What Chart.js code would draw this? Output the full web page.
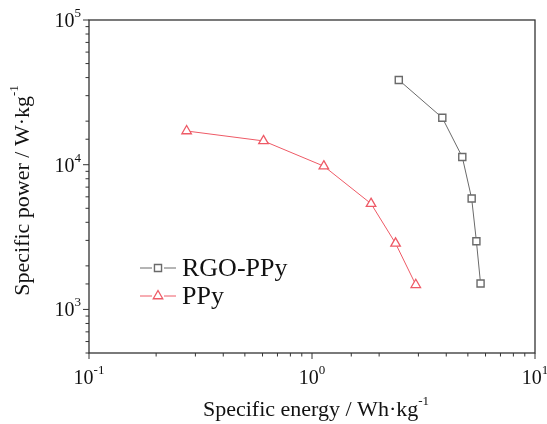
<!DOCTYPE html>
<html>
<head>
<meta charset="utf-8">
<script src="https://cdn.jsdelivr.net/npm/chart.js@4/dist/chart.umd.min.js"></script>
<style>
  html,body{margin:0;padding:0;background:#fff;}
  #wrap{width:547px;height:424px;position:relative;}
</style>
</head>
<body>
<div id="wrap"><canvas id="c"></canvas></div>
<script>
// data
const seriesNames = ['RGO-PPy', 'PPy'];
const rgoEnergy = [2.45, 3.84, 4.72, 5.20, 5.46, 5.70];
const rgoPower  = [38500, 21100, 11300, 5840, 2960, 1510];
const ppyEnergy = [0.274, 0.606, 1.13, 1.84, 2.37, 2.92];
const ppyPower  = [17100, 14600, 9770, 5380, 2860, 1480];
const xDecades = [-1, 0, 1];
const yDecades = [3, 4, 5];

const FONT = '"Liberation Serif", "Times New Roman", serif';
const GREY = '#6a6a6a';
const RED = '#ee5a66';

function pts(xs, ys){ return xs.map((x,i)=>({x:x, y:ys[i]})); }
function isDecade(v){ const l = Math.log10(v); return Math.abs(l - Math.round(l)) < 1e-6; }

// text with a superscript tail, like 10^-1 or kg^-1
function supText(ctx, base, exp, x, y, size, supSize, rise){
  ctx.font = size + 'px ' + FONT;
  const w = ctx.measureText(base).width;
  ctx.fillText(base, x, y);
  ctx.font = supSize + 'px ' + FONT;
  ctx.fillText(exp, x + w, y - rise);
  return w + ctx.measureText(exp).width;
}
function supWidth(ctx, base, exp, size, supSize){
  ctx.font = size + 'px ' + FONT;
  const w = ctx.measureText(base).width;
  ctx.font = supSize + 'px ' + FONT;
  return w + ctx.measureText(exp).width;
}

// frame, ticks, labels and legend
const decor = {
  id: 'decor',
  afterDraw(chart){
    const ctx = chart.ctx, a = chart.chartArea;
    const xs = chart.scales.x, ys = chart.scales.y;
    ctx.save();
    ctx.strokeStyle = '#333'; ctx.lineWidth = 1.3;
    ctx.strokeRect(a.left, a.top, a.right - a.left, a.bottom - a.top);

    ctx.lineWidth = 1;
    xs.ticks.forEach(t=>{
      const px = xs.getPixelForValue(t.value);
      ctx.beginPath(); ctx.moveTo(px, a.bottom); ctx.lineTo(px, a.bottom + (isDecade(t.value)?6:3.5)); ctx.stroke();
    });
    ys.ticks.forEach(t=>{
      const py = ys.getPixelForValue(t.value);
      ctx.beginPath(); ctx.moveTo(a.left, py); ctx.lineTo(a.left - (isDecade(t.value)?6:3.5), py); ctx.stroke();
    });

    ctx.fillStyle = '#111'; ctx.textAlign = 'left'; ctx.textBaseline = 'alphabetic';
    xDecades.forEach(d=>{
      const px = xs.getPixelForValue(Math.pow(10, d));
      const w = supWidth(ctx, '10', String(d), 20, 13);
      supText(ctx, '10', String(d), px - w / 2, a.bottom + 31, 20, 13, 10);
    });
    yDecades.forEach(d=>{
      const py = ys.getPixelForValue(Math.pow(10, d));
      const w = supWidth(ctx, '10', String(d), 20, 13);
      supText(ctx, '10', String(d), a.left - 8 - w, py + 7, 20, 13, 10);
    });

    // axis titles
    const xw = supWidth(ctx, 'Specific energy / Wh\u00b7kg', '-1', 22, 13);
    supText(ctx, 'Specific energy / Wh\u00b7kg', '-1', (a.left + a.right) / 2 + 4 - xw / 2, 416, 22, 13, 11);

    ctx.save();
    ctx.translate(29, (a.top + a.bottom) / 2 + 4);
    ctx.rotate(-Math.PI / 2);
    const yw = supWidth(ctx, 'Specific power / W\u00b7kg', '-1', 22, 13);
    supText(ctx, 'Specific power / W\u00b7kg', '-1', -yw / 2, 0, 22, 13, 11);
    ctx.restore();

    // legend
    const rowY = [268, 296];
    chart.data.datasets.forEach((ds, i)=>{
      const y = rowY[i], x1 = 140, x2 = 176, mx = (x1 + x2) / 2;
      ctx.strokeStyle = ds.borderColor; ctx.lineWidth = 1;
      ctx.beginPath(); ctx.moveTo(x1, y); ctx.lineTo(mx - 6, y); ctx.moveTo(mx + 6, y); ctx.lineTo(x2, y); ctx.stroke();
      ctx.strokeStyle = ds.pointBorderColor; ctx.fillStyle = ds.pointBackgroundColor; ctx.lineWidth = ds.pointBorderWidth;
      Chart.helpers.drawPoint(ctx, {pointStyle: ds.pointStyle, radius: ds.pointRadius, borderWidth: ds.pointBorderWidth, rotation: 0}, mx, y);
      ctx.font = '26px ' + FONT; ctx.fillStyle = '#111'; ctx.textBaseline = 'middle';
      ctx.fillText(ds.label, 182, y + 1);
      ctx.textBaseline = 'alphabetic';
    });
    ctx.restore();
  }
};

new Chart(document.getElementById('c'), {
  type: 'line',
  data: {
    datasets: [
      {
        label: seriesNames[0], data: pts(rgoEnergy, rgoPower),
        borderColor: GREY, borderWidth: 1, backgroundColor: '#fff',
        pointStyle: 'rect', pointRadius: 5, pointBorderWidth: 1.4,
        pointBorderColor: GREY, pointBackgroundColor: '#fff', tension: 0
      },
      {
        label: seriesNames[1], data: pts(ppyEnergy, ppyPower),
        borderColor: RED, borderWidth: 1, backgroundColor: '#fff',
        pointStyle: 'triangle', pointRadius: 5.5, pointBorderWidth: 1.3,
        pointBorderColor: RED, pointBackgroundColor: '#fff', tension: 0
      }
    ]
  },
  options: {
    responsive: true, maintainAspectRatio: false, animation: false,
    layout: {padding: {left: 89, top: 20, right: 12, bottom: 71}},
    plugins: {legend: {display: false}, tooltip: {enabled: false}},
    scales: {
      x: {
        type: 'logarithmic', min: 0.1, max: 10,
        grid: {display: false}, border: {display: false},
        ticks: {display: false},
        afterFit: s => { s.height = 0; }
      },
      y: {
        type: 'logarithmic', min: 500, max: 100000,
        grid: {display: false}, border: {display: false},
        ticks: {display: false},
        afterFit: s => { s.width = 0; }
      }
    }
  },
  plugins: [decor]
});
</script>
</body>
</html>
